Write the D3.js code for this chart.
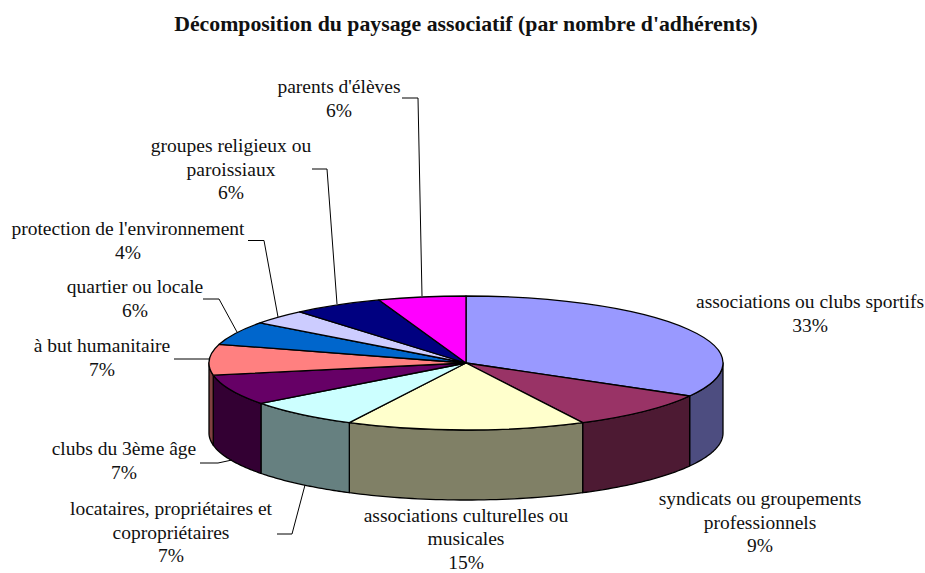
<!DOCTYPE html>
<html>
<head>
<meta charset="utf-8">
<script src="https://cdn.jsdelivr.net/npm/d3@7"></script>
<style>
  html, body { margin: 0; padding: 0; background: #fff; }
  svg { display: block; }
  text { font-family: "Liberation Serif", serif; fill: #111; }
</style>
</head>
<body>
<div id="chart"></div>
<script>
// data
var title = "Décomposition du paysage associatif (par nombre d'adhérents)"
var categories = [
  ["associations ou clubs sportifs"],
  ["syndicats ou groupements", "professionnels"],
  ["associations culturelles ou", "musicales"],
  ["locataires, propriétaires et", "copropriétaires"],
  ["clubs du 3ème âge"],
  ["à but humanitaire"],
  ["quartier ou locale"],
  ["protection de l'environnement"],
  ["groupes religieux ou", "paroissiaux"],
  ["parents d'élèves"]
]
var values = [33.2, 9.3, 15, 7.2, 7.4, 7.4, 5.7, 3.6, 5.7, 5.5]
var colors = ["#9999ff", "#993366", "#ffffcc", "#ccffff", "#660066", "#ff8080", "#0066cc", "#ccccff", "#000080", "#ff00ff"]

// label placement, same order as categories: centre x, first baseline
var labelX = [810, 760, 466, 171, 124, 102, 135, 128, 231, 339]
var labelY = [308, 505, 521.5, 515, 455, 352, 293, 235, 152, 93]
// leader lines, [x, y] points, null when the label has none
var leaders = [
  null,
  null,
  null,
  [[277, 534], [292, 534], [305, 485]],
  [[200, 463], [218, 463], [232, 460]],
  [[174, 359], [209, 359]],
  [[203, 299], [219, 299], [237, 332]],
  [[248, 240.5], [264, 240.5], [278, 317]],
  [[312, 169], [327, 169], [337, 304]],
  [[402, 98], [418, 98], [422, 296]]
]

var width = 925, height = 573
var cx = 466, cy = 363, rx = 257, ry = 67, depth = 70
var labelSize = 19.5, lineH = 23.6

var svg = d3.select("#chart").append("svg")
  .attr("width", width)
  .attr("height", height)

var pie = d3.pie().sort(null).value(function(d){ return d })
var slices = pie(values)

function px(a){ return cx + rx * Math.sin(a) }
function py(a){ return cy - ry * Math.cos(a) }

function darker(c){
  var r = d3.rgb(c)
  return d3.rgb(r.r / 2, r.g / 2, r.b / 2).formatHex()
}

// sides first, only the front half of the ellipse shows
var side = d3.line().x(function(p){ return p[0] }).y(function(p){ return p[1] })
slices.forEach(function(s, i){
  var a0 = Math.max(s.startAngle, Math.PI / 2)
  var a1 = Math.min(s.endAngle, Math.PI * 1.5)
  if(a1 <= a0) return
  var top = d3.range(0, 41).map(function(k){
    var a = a0 + (a1 - a0) * k / 40
    return [px(a), py(a)]
  })
  var bottom = top.map(function(p){ return [p[0], p[1] + depth] }).reverse()
  svg.append("path")
    .attr("d", side(top.concat(bottom)) + "Z")
    .attr("fill", darker(colors[i]))
    .attr("stroke", "#000")
    .attr("stroke-width", 1.3)
    .attr("stroke-linejoin", "round")
})

// top face, circle arc squashed into the ellipse
var arc = d3.arc().innerRadius(0).outerRadius(rx)
svg.append("g")
  .attr("transform", "translate(" + cx + "," + cy + ") scale(1," + (ry / rx) + ")")
  .selectAll("path")
  .data(slices)
  .enter()
  .append("path")
  .attr("d", arc)
  .attr("fill", function(d, i){ return colors[i] })
  .attr("stroke", "#000")
  .attr("stroke-width", 1.3)
  .attr("stroke-linejoin", "round")
  .attr("vector-effect", "non-scaling-stroke")

// leader lines
var leader = d3.line()
svg.selectAll("path.leader")
  .data(leaders.filter(function(d){ return d }))
  .enter()
  .append("path")
  .attr("class", "leader")
  .attr("d", leader)
  .attr("fill", "none")
  .attr("stroke", "#000")
  .attr("stroke-width", 1)

// title
svg.append("text")
  .attr("x", 466)
  .attr("y", 31)
  .attr("text-anchor", "middle")
  .style("font-size", "21.8px")
  .style("font-weight", "bold")
  .text(title)

// labels
categories.forEach(function(lines, i){
  var t = svg.append("text")
    .attr("text-anchor", "middle")
    .style("font-size", labelSize + "px")
  lines.concat([Math.round(values[i]) + "%"]).forEach(function(l, j){
    t.append("tspan")
      .attr("x", labelX[i])
      .attr("y", labelY[i] + j * lineH)
      .text(l)
  })
})
</script>
</body>
</html>
